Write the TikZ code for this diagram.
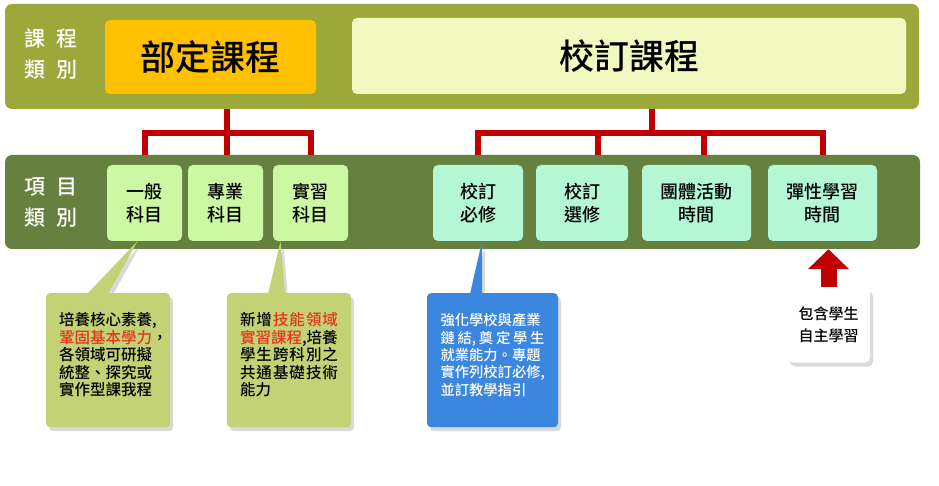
\documentclass[tikz,border=0pt]{standalone}
\usepackage{fontspec}
\setmainfont{Noto Sans CJK TC Medium}
\usetikzlibrary{arrows.meta, shadows}
\definecolor{colive}{HTML}{9CA83A}
\definecolor{cgold}{HTML}{FFC000}
\definecolor{ccream}{HTML}{F2F9C0}
\definecolor{cmoss}{HTML}{66813F}
\definecolor{clime}{HTML}{CCF8A4}
\definecolor{cmint}{HTML}{B3F7D4}
\definecolor{cpear}{HTML}{C3D275}
\definecolor{cblue}{HTML}{3B86DE}
\definecolor{cred}{HTML}{C00000}
\definecolor{chot}{HTML}{E8341E}
\newcommand{\fillline}[1]{\makebox[\hsize][s]{#1}}
\tikzset{
  every picture/.style={x=1pt, y=-1pt},
  band/.style={fill=#1, rounded corners=7pt, inner sep=0pt},
  head/.style={fill=#1, rounded corners=5pt, inner sep=0pt, font=\fontsize{35}{40}\selectfont},
  item/.style={fill=#1, rounded corners=5pt, inner sep=0pt, align=center, minimum height=76pt, font=\fontsize{18}{23}\selectfont},
  tag/.style={text=white, align=center, font=\fontsize{21}{31}\selectfont},
  tree/.style={draw=cred, line width=6pt},
  soft/.style={drop shadow={shadow xshift=3pt, shadow yshift=-4pt, opacity=.3}},
  note/.style={fill=#1, soft, rounded corners=4pt, align=left, minimum height=134pt},
  uparrow/.style={draw=cred, line width=16pt, -{Triangle[width=40pt, length=20pt]}},
}

\begin{document}
\begin{tikzpicture}
  \useasboundingbox (0,0) rectangle (939,486);
  % course type band
  \node[band=colive, minimum width=914pt, minimum height=105pt] (top) at (462,56.5) {};
  \node[tag] (tag1) at (51,54) {課\hspace{11pt}程\\類\hspace{11pt}別};
  \node[head=cgold, minimum width=211pt, minimum height=74pt] (dept) at (210.5,57) {部定課程};
  \node[head=ccream, minimum width=554pt, minimum height=76pt] (school) at (629,56) {校訂課程};
  % item band
  \node[band=cmoss, minimum width=915pt, minimum height=94pt] (band2) at (462.5,202) {};
  \node[tag] (tag2) at (51,203) {項\hspace{11pt}目\\類\hspace{11pt}別};
  \node[item=clime, minimum width=75pt] (gen) at (144.5,203) {一般\\科目};
  \node[item=clime, minimum width=75pt] (spec) at (225.5,203) {專業\\科目};
  \node[item=clime, minimum width=75pt] (prac) at (310.5,203) {實習\\科目};
  \node[item=cmint, minimum width=90pt] (req) at (478,203) {校訂\\必修};
  \node[item=cmint, minimum width=92pt] (elec) at (582,203) {校訂\\選修};
  \node[item=cmint, minimum width=109pt] (grp) at (696.5,203) {團體活動\\時間};
  \node[item=cmint, minimum width=109pt] (flex) at (822.5,203) {彈性學習\\時間};
  % tree connectors
  \coordinate (lj) at (227,133);
  \coordinate (rj) at (652,133);
  \coordinate (eldrop) at ([xshift=16pt]elec.north);
  \coordinate (grdrop) at ([xshift=7pt]grp.north);
  \draw[tree] (lj |- top.south) -- (lj |- band2.north);
  \draw[tree] (gen.north |- band2.north) |- (lj) -| (prac.north |- band2.north);
  \draw[tree] (rj |- top.south) -- (rj);
  \draw[tree] (req.north |- band2.north) |- (rj) -| (flex.north |- band2.north);
  \draw[tree] (eldrop |- band2.north) -- (eldrop |- rj);
  \draw[tree] (grdrop |- band2.north) -- (grdrop |- rj);
  % callouts
  \coordinate (n1top) at (108,293);
  \coordinate (n2top) at (289,293);
  \coordinate (n3top) at (492.5,293);
  \fill[cpear, soft] ([xshift=-7pt]gen.south) -- ([xshift=0pt, yshift=-1pt]n1top) -- ([xshift=-21pt, yshift=-1pt]n1top) -- cycle;
  \fill[cpear, soft] ([xshift=-30pt]prac.south) -- ([xshift=-4pt, yshift=-1pt]n2top) -- ([xshift=-21pt, yshift=-1pt]n2top) -- cycle;
  \fill[cblue, soft] ([xshift=4pt]req.south) -- ([xshift=-10.5pt, yshift=-1pt]n3top) -- ([xshift=-22.5pt, yshift=-1pt]n3top) -- cycle;
  \node[note=cpear, anchor=north, minimum width=124pt, text width=98pt, text depth=82pt, font=\fontsize{15.5}{17.5}\selectfont] (n1) at (n1top)
    {培養核心素養,\\{\color{chot}鞏固基本學力}，\\各領域可研擬\\統整、探究或\\實作型課我程};
  \node[note=cpear, anchor=north, minimum width=124pt, text width=98pt, text depth=82pt, font=\fontsize{15.5}{17.5}\selectfont] (n2) at (n2top)
    {\fillline{新\hfil 增\hfil {\color{chot}技\hfil 能\hfil 領\hfil 域}}\\{\color{chot}實習課程},培養\\\fillline{學\hfil 生\hfil 跨\hfil 科\hfil 別\hfil 之}\\\fillline{共\hfil 通\hfil 基\hfil 礎\hfil 技\hfil 術}\\能力};
  \node[note=cblue, anchor=north, minimum width=131pt, text width=104pt, text depth=81pt, text=white, font=\fontsize{14.3}{17.3}\selectfont] (n3) at (n3top)
    {強化學校與產業\\\fillline{鏈\hfil 結,\hfil 奠\hfil 定\hfil 學\hfil 生}\\就業能力。專題\\實作列校訂必修,\\並訂教學指引};
  % self-study note
  \node[fill=white, soft, rounded corners=5pt, minimum width=83pt, minimum height=75pt, align=center, font=\fontsize{15}{22}\selectfont] (incl) at (828.5,325) {包含學生\\自主學習};
  \draw[uparrow] (incl.north) -- (incl.north |- band2.south);
\end{tikzpicture}
\end{document}
